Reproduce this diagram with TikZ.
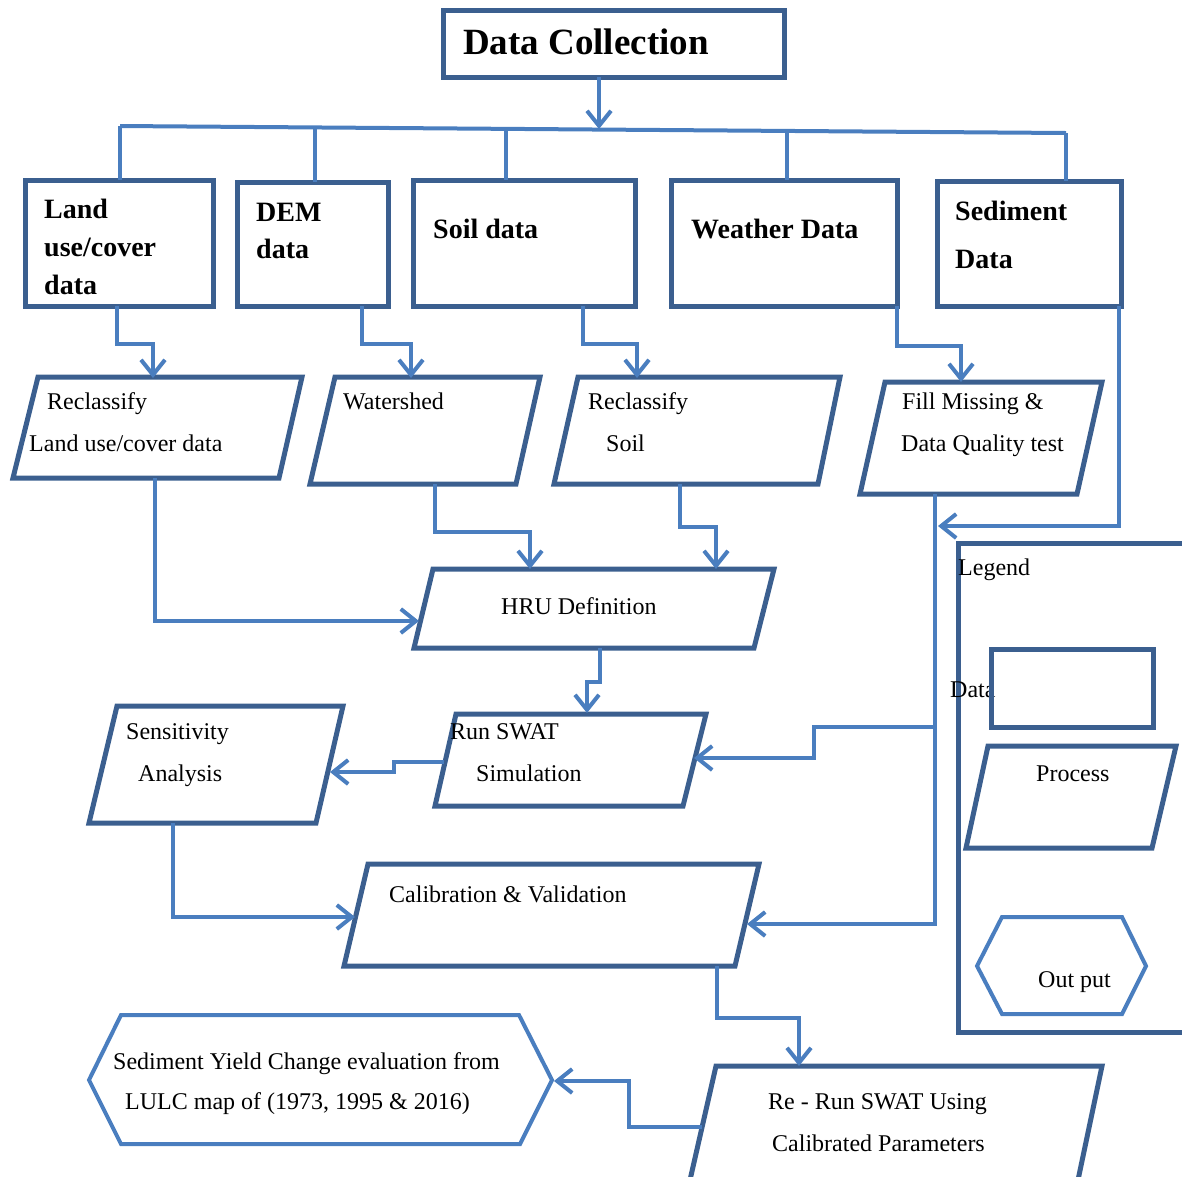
\documentclass[tikz,border=0pt]{standalone}
\usepackage{fontspec}
\setmainfont{Liberation Serif}
\usetikzlibrary{arrows.meta}
\definecolor{dkb}{HTML}{3B5F8F}
\definecolor{ltb}{HTML}{4A7EBF}
\begin{document}
\begin{tikzpicture}[x=1pt,y=-1pt,
  dbox/.style={draw=dkb,line width=5pt,anchor=north west,inner sep=0pt,outer sep=0pt},
  proc/.style={draw=dkb,line width=5pt,line join=miter},
  outp/.style={draw=ltb,line width=4pt,line join=miter},
  conn/.style={draw=ltb,line width=4pt},
  arr/.style={conn,-{Straight Barb[length=15pt,width=24pt]}},
  tt/.style={font=\fontsize{37}{40}\selectfont\bfseries,anchor=mid west,inner sep=0pt,yshift=-9pt},
  bt/.style={font=\fontsize{28}{32}\selectfont\bfseries,anchor=mid west,inner sep=0pt,yshift=-6pt},
  rt/.style={font=\fontsize{24}{28}\selectfont,anchor=mid west,inner sep=0pt,yshift=-5pt},
]
\useasboundingbox (0,0) rectangle (1182,1176);

% ---------- Data boxes ----------
\node[dbox,minimum width=341pt,minimum height=67pt] (dc) at (443,10) {};
\node[tt] (dct) at (463,43) {Data Collection};

\node[dbox,minimum width=188pt,minimum height=126pt] (land) at (25,180) {};
\node[dbox,minimum width=151pt,minimum height=124pt] (dem) at (237,182) {};
\node[dbox,minimum width=222pt,minimum height=126pt] (soil) at (413,180) {};
\node[dbox,minimum width=226pt,minimum height=126pt] (weather) at (671,180) {};
\node[dbox,minimum width=184pt,minimum height=125pt] (sed) at (937,181) {};

\node[bt] (tl1) at (44,210) {Land};
\node[bt] (tl2) at (44,248) {use/cover};
\node[bt] (tl3) at (44,286) {data};
\node[bt] (td1) at (256,213) {DEM};
\node[bt] (td2) at (256,250) {data};
\node[bt] (ts) at (433,230) {Soil data};
\node[bt] (tw) at (691,230) {Weather Data};
\node[bt] (tse1) at (955,212) {Sediment};
\node[bt] (tse2) at (955,260) {Data};

% ---------- Process boxes ----------
\draw[proc] (38,377) -- (302,377) -- (279,478) -- (13,478) -- cycle;
\node[rt] (p1a) at (47,402) {Reclassify};
\node[rt] (p1b) at (29,444) {Land use/cover data};

\draw[proc] (335,377) -- (540,377) -- (516,484) -- (310,484) -- cycle;
\node[rt] (p2a) at (343,402) {Watershed};

\draw[proc] (578,377) -- (840,377) -- (818,484) -- (554,484) -- cycle;
\node[rt] (p3a) at (588,402) {Reclassify};
\node[rt] (p3b) at (606,444) {Soil};

\draw[proc] (885,382) -- (1102,382) -- (1077,494) -- (860,494) -- cycle;
\node[rt] (p4a) at (902,402) {Fill Missing \&};
\node[rt] (p4b) at (901,444) {Data Quality test};

\draw[proc] (433,569) -- (774,569) -- (754,648) -- (414,648) -- cycle;
\node[rt] (p5a) at (501,607) {HRU Definition};

\draw[proc] (456,714) -- (706,714) -- (683,806) -- (435,806) -- cycle;
\node[rt] (p6a) at (450,732) {Run SWAT};
\node[rt] (p6b) at (476,774) {Simulation};

\draw[proc] (117,706) -- (343,706) -- (316,823) -- (89,823) -- cycle;
\node[rt] (p7a) at (126,732) {Sensitivity};
\node[rt] (p7b) at (138,774) {Analysis};

\draw[proc] (368,864) -- (759,864) -- (735,966) -- (344,966) -- cycle;
\node[rt] (p8a) at (389,895) {Calibration \& Validation};

\draw[proc] (690,1180) -- (716,1066) -- (1102,1066) -- (1078,1180);
\node[rt] (p9a) at (768,1102) {Re - Run SWAT Using};
\node[rt] (p9b) at (772,1144) {Calibrated Parameters};

% ---------- Output ----------
\draw[outp] (89,1080) -- (121,1015) -- (519,1015) -- (552,1080) -- (520,1144) -- (121,1144) -- cycle;
\node[rt] (o1a) at (113,1062) {Sediment Yield Change evaluation from};
\node[rt] (o1b) at (125,1102) {LULC map of (1973, 1995 \& 2016)};

% ---------- Legend ----------
\draw[proc] (1190,543) -- (958,543) -- (958,1032) -- (1190,1032);
\node[rt] (lg) at (958,568) {Legend};
\node[rt] (lgd) at (950,690) {Data};
\node[dbox,minimum width=162pt,minimum height=78pt] (lgdata) at (991,649) {};
\draw[proc] (988,746) -- (1176,746) -- (1152,848) -- (966,848) -- cycle;
\node[rt] (lgp) at (1036,774) {Process};
\draw[outp] (977,966) -- (1002,917) -- (1122,917) -- (1146,966) -- (1122,1014) -- (1002,1014) -- cycle;
\node[rt] (lgo) at (1038,980) {Out put};

% ---------- Connectors ----------
\coordinate (c0a) at (599,77);
\coordinate (c0b) at (599,129);
\draw[arr] (c0a) -- (c0b);

\coordinate (busL) at (120,126);
\coordinate (busR) at (1066,133);
\coordinate (bD) at (315,127.5);
\coordinate (bS) at (506,129);
\coordinate (bW) at (787,131);
\draw[conn] (busL) -- (busR);
\draw[conn] (busL) -- (busL |- land.north);
\draw[conn] (bD) -- (bD |- dem.north);
\draw[conn] (bS) -- (bS |- soil.north);
\draw[conn] (bW) -- (bW |- weather.north);
\draw[conn] (busR) -- (busR |- sed.north);

\coordinate (o1) at (117,306);  \coordinate (i1) at (153,378);
\coordinate (o2) at (362,306);  \coordinate (i2) at (411,378);
\coordinate (o3) at (583,306);  \coordinate (i3) at (637,378);
\coordinate (o4) at (897,306);  \coordinate (i4) at (961,382);
\draw[arr] (o1) -- ++(0,38) -| (i1);
\draw[arr] (o2) -- ++(0,38) -| (i2);
\draw[arr] (o3) -- ++(0,38) -| (i3);
\draw[arr] (o4) -- ++(0,40) -| (i4);

\coordinate (o5) at (1119,306); \coordinate (i5) at (938,526);
\draw[arr] (o5) |- (i5);

\coordinate (o6) at (935,494); \coordinate (k6) at (935,924); \coordinate (i6) at (747,924);
\draw[arr] (o6) -- (k6) -- (i6);
\coordinate (b6) at (935,727); \coordinate (i7) at (694,758);
\draw[arr] (b6) -- ++(-121,0) |- (i7);

\coordinate (o8) at (155,478); \coordinate (i8) at (419,621);
\draw[arr] (o8) |- (i8);
\coordinate (o9) at (435,484); \coordinate (i9) at (530,569);
\draw[arr] (o9) -- ++(0,48) -| (i9);
\coordinate (o10) at (680,484); \coordinate (i10) at (716,569);
\draw[arr] (o10) -- ++(0,43) -| (i10);
\coordinate (o11) at (600,648); \coordinate (i11) at (587,713);
\draw[arr] (o11) -- ++(0,34) -| (i11);
\coordinate (o12) at (444,762); \coordinate (i12) at (330,772);
\draw[arr] (o12) -- ++(-50,0) |- (i12);
\coordinate (o13) at (173,823); \coordinate (i13) at (355,917);
\draw[arr] (o13) |- (i13);
\coordinate (o14) at (717,966); \coordinate (i14) at (799,1066);
\draw[arr] (o14) -- ++(0,52) -| (i14);
\coordinate (o15) at (702,1127); \coordinate (i15) at (554,1081);
\draw[arr] (o15) -- ++(-73,0) |- (i15);
\end{tikzpicture}
\end{document}
